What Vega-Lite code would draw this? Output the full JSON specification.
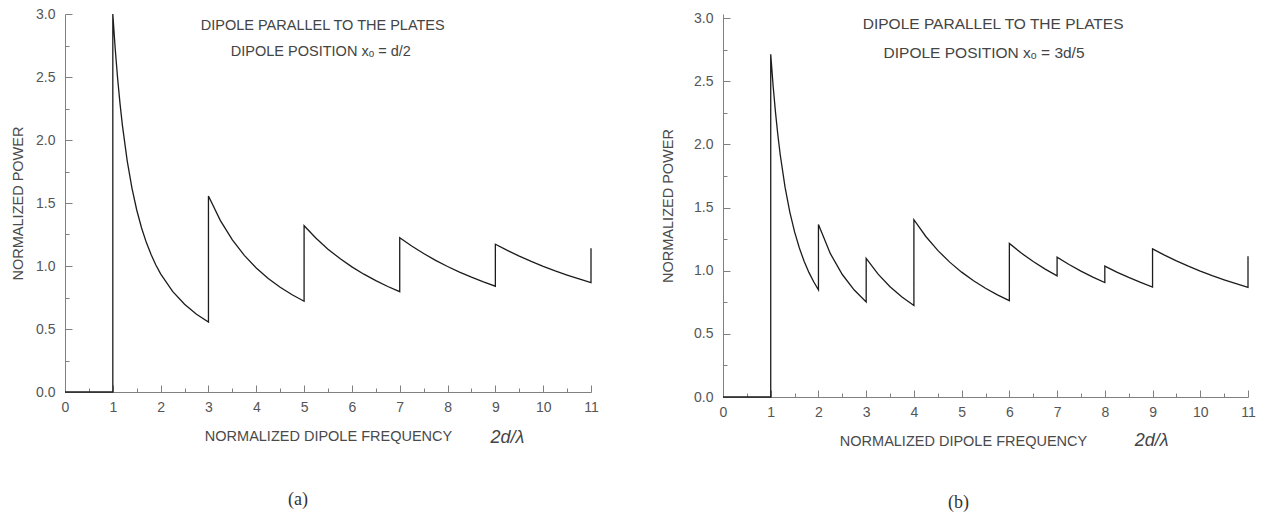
{
  "$schema": "https://vega.github.io/schema/vega-lite/v6.json",
  "background": "white",
  "padding": {"left": 10, "top": 7, "right": 5, "bottom": 5},
  "config": {
    "view": {"stroke": null},
    "font": "Liberation Sans",
    "axis": {
      "grid": false,
      "domainColor": "#808080",
      "tickColor": "#808080",
      "domainWidth": 1,
      "tickWidth": 1,
      "labelColor": "#555555",
      "titleColor": "#4a4a4a",
      "labelFont": "Liberation Sans",
      "titleFont": "Liberation Sans",
      "labelFontSize": 14,
      "titleFontSize": 14.5,
      "titleFontWeight": "normal",
      "labelFlush": false,
      "labelOverlap": false
    }
  },
  "datasets": {
    "curves": [
      {"panel":"a","i":0,"nu":0,"p":0},{"panel":"a","i":1,"nu":1,"p":0},{"panel":"a","i":2,"nu":1,"p":3.0},
      {"panel":"a","i":3,"nu":1.05,"p":2.7243},{"panel":"a","i":4,"nu":1.1,"p":2.4906},{"panel":"a","i":5,"nu":1.15,"p":2.2906},
      {"panel":"a","i":6,"nu":1.2,"p":2.1181},{"panel":"a","i":7,"nu":1.3,"p":1.8366},{"panel":"a","i":8,"nu":1.4,"p":1.6181},
      {"panel":"a","i":9,"nu":1.5,"p":1.4444},{"panel":"a","i":10,"nu":1.6,"p":1.3037},{"panel":"a","i":11,"nu":1.7,"p":1.1877},
      {"panel":"a","i":12,"nu":1.8,"p":1.0905},{"panel":"a","i":13,"nu":1.9,"p":1.0082},{"panel":"a","i":14,"nu":2.0,"p":0.9375},
      {"panel":"a","i":15,"nu":2.25,"p":0.7984},{"panel":"a","i":16,"nu":2.5,"p":0.696},{"panel":"a","i":17,"nu":2.75,"p":0.6176},
      {"panel":"a","i":18,"nu":3,"p":0.5556},{"panel":"a","i":19,"nu":3,"p":1.5556},{"panel":"a","i":20,"nu":3.25,"p":1.36},
      {"panel":"a","i":21,"nu":3.5,"p":1.207},{"panel":"a","i":22,"nu":3.75,"p":1.0844},{"panel":"a","i":23,"nu":4,"p":0.9844},
      {"panel":"a","i":24,"nu":4.25,"p":0.9013},{"panel":"a","i":25,"nu":4.5,"p":0.8313},{"panel":"a","i":26,"nu":4.75,"p":0.7716},
      {"panel":"a","i":27,"nu":5,"p":0.72},{"panel":"a","i":28,"nu":5,"p":1.32},{"panel":"a","i":29,"nu":5.25,"p":1.22},
      {"panel":"a","i":30,"nu":5.5,"p":1.1337},{"panel":"a","i":31,"nu":5.75,"p":1.0588},{"panel":"a","i":32,"nu":6,"p":0.9931},
      {"panel":"a","i":33,"nu":6.25,"p":0.935},{"panel":"a","i":34,"nu":6.5,"p":0.8835},{"panel":"a","i":35,"nu":6.75,"p":0.8374},
      {"panel":"a","i":36,"nu":7,"p":0.7959},{"panel":"a","i":37,"nu":7,"p":1.2245},{"panel":"a","i":38,"nu":7.25,"p":1.1582},
      {"panel":"a","i":39,"nu":7.5,"p":1.0987},{"panel":"a","i":40,"nu":7.75,"p":1.0449},{"panel":"a","i":41,"nu":8,"p":0.9961},
      {"panel":"a","i":42,"nu":8.25,"p":0.9517},{"panel":"a","i":43,"nu":8.5,"p":0.911},{"panel":"a","i":44,"nu":8.75,"p":0.8738},
      {"panel":"a","i":45,"nu":9,"p":0.8395},{"panel":"a","i":46,"nu":9,"p":1.1728},{"panel":"a","i":47,"nu":9.25,"p":1.1235},
      {"panel":"a","i":48,"nu":9.5,"p":1.0781},{"panel":"a","i":49,"nu":9.75,"p":1.0363},{"panel":"a","i":50,"nu":10,"p":0.9975},
      {"panel":"a","i":51,"nu":10.25,"p":0.9615},{"panel":"a","i":52,"nu":10.5,"p":0.9281},{"panel":"a","i":53,"nu":10.75,"p":0.8969},
      {"panel":"a","i":54,"nu":11,"p":0.8678},{"panel":"a","i":55,"nu":11,"p":1.1405},

      {"panel":"b","i":0,"nu":0,"p":0},{"panel":"b","i":1,"nu":1,"p":0},{"panel":"b","i":2,"nu":1,"p":2.7135},
      {"panel":"b","i":3,"nu":1.05,"p":2.4641},{"panel":"b","i":4,"nu":1.1,"p":2.2528},{"panel":"b","i":5,"nu":1.15,"p":2.0718},
      {"panel":"b","i":6,"nu":1.2,"p":1.9158},{"panel":"b","i":7,"nu":1.3,"p":1.6612},{"panel":"b","i":8,"nu":1.4,"p":1.4636},
      {"panel":"b","i":9,"nu":1.5,"p":1.3065},{"panel":"b","i":10,"nu":1.6,"p":1.1792},{"panel":"b","i":11,"nu":1.7,"p":1.0743},
      {"panel":"b","i":12,"nu":1.8,"p":0.9864},{"panel":"b","i":13,"nu":1.9,"p":0.9119},{"panel":"b","i":14,"nu":2,"p":0.848},
      {"panel":"b","i":15,"nu":2,"p":1.3662},{"panel":"b","i":16,"nu":2.25,"p":1.1344},{"panel":"b","i":17,"nu":2.5,"p":0.9695},
      {"panel":"b","i":18,"nu":2.75,"p":0.8467},{"panel":"b","i":19,"nu":3,"p":0.752},{"panel":"b","i":20,"nu":3,"p":1.0975},
      {"panel":"b","i":21,"nu":3.25,"p":0.9722},{"panel":"b","i":22,"nu":3.5,"p":0.8726},{"panel":"b","i":23,"nu":3.75,"p":0.7917},
      {"panel":"b","i":24,"nu":4,"p":0.7248},{"panel":"b","i":25,"nu":4,"p":1.4032},{"panel":"b","i":26,"nu":4.25,"p":1.2706},
      {"panel":"b","i":27,"nu":4.5,"p":1.1604},{"panel":"b","i":28,"nu":4.75,"p":1.0676},{"panel":"b","i":29,"nu":5,"p":0.9884},
      {"panel":"b","i":30,"nu":5.25,"p":0.9202},{"panel":"b","i":31,"nu":5.5,"p":0.8609},{"panel":"b","i":32,"nu":5.75,"p":0.8089},
      {"panel":"b","i":33,"nu":6,"p":0.763},{"panel":"b","i":34,"nu":6,"p":1.2152},{"panel":"b","i":35,"nu":6.25,"p":1.1392},
      {"panel":"b","i":36,"nu":6.5,"p":1.072},{"panel":"b","i":37,"nu":6.75,"p":1.0123},{"panel":"b","i":38,"nu":7,"p":0.9588},
      {"panel":"b","i":39,"nu":7,"p":1.1069},{"panel":"b","i":40,"nu":7.25,"p":1.0489},{"panel":"b","i":41,"nu":7.5,"p":0.9966},
      {"panel":"b","i":42,"nu":7.75,"p":0.9493},{"panel":"b","i":43,"nu":8,"p":0.9063},{"panel":"b","i":44,"nu":8,"p":1.0359},
      {"panel":"b","i":45,"nu":8.25,"p":0.989},{"panel":"b","i":46,"nu":8.5,"p":0.9462},{"panel":"b","i":47,"nu":8.75,"p":0.9069},
      {"panel":"b","i":48,"nu":9,"p":0.8708},{"panel":"b","i":49,"nu":9,"p":1.1723},{"panel":"b","i":50,"nu":9.25,"p":1.123},
      {"panel":"b","i":51,"nu":9.5,"p":1.0777},{"panel":"b","i":52,"nu":9.75,"p":1.0359},{"panel":"b","i":53,"nu":10,"p":0.9971},
      {"panel":"b","i":54,"nu":10.25,"p":0.9612},{"panel":"b","i":55,"nu":10.5,"p":0.9278},{"panel":"b","i":56,"nu":10.75,"p":0.8966},
      {"panel":"b","i":57,"nu":11,"p":0.8675},{"panel":"b","i":58,"nu":11,"p":1.1141}
    ],
    "notes": [
      {"panel":"a","kind":"note","nu":5.39,"p":2.905,"text":"DIPOLE PARALLEL TO THE PLATES"},
      {"panel":"a","kind":"note","nu":5.35,"p":2.698,"text":"DIPOLE POSITION xₒ = d/2"},
      {"panel":"a","kind":"sym","nu":9.25,"p":-0.365,"text":"2d/λ"},
      {"panel":"b","kind":"note","nu":5.66,"p":2.953,"text":"DIPOLE PARALLEL TO THE PLATES"},
      {"panel":"b","kind":"note","nu":5.47,"p":2.723,"text":"DIPOLE POSITION xₒ = 3d/5"},
      {"panel":"b","kind":"sym","nu":8.98,"p":-0.348,"text":"2d/λ"}
    ]
  },
  "bounds": "flush",
  "spacing": 132,
  "hconcat": [
    {
      "width": 526,
      "height": 378,
      "title": {"text": "(a)", "orient": "bottom", "font": "Liberation Serif", "fontSize": 18, "fontWeight": "normal", "color": "#333333", "offset": 44, "dx": -30},
      "encoding": {
        "x": {"field": "nu", "type": "quantitative", "scale": {"domain": [0, 11], "nice": false, "zero": false},
          "axis": {"title": "NORMALIZED DIPOLE FREQUENCY",
            "values": [0,0.5,1,1.5,2,2.5,3,3.5,4,4.5,5,5.5,6,6.5,7,7.5,8,8.5,9,9.5,10,10.5,11],
            "labelExpr": "datum.value % 1 == 0 ? format(datum.value, 'd') : ''",
            "tickSize": {"condition": {"test": "datum.value % 1 == 0", "value": -7}, "value": -4},
            "labelPadding": 15, "titlePadding": 12}},
        "y": {"field": "p", "type": "quantitative", "scale": {"domain": [0, 3], "nice": false},
          "axis": {"title": "NORMALIZED POWER",
            "values": [0,0.25,0.5,0.75,1,1.25,1.5,1.75,2,2.25,2.5,2.75,3],
            "labelExpr": "datum.value % 0.5 == 0 ? format(datum.value, '.1f') : ''",
            "tickSize": {"condition": {"test": "datum.value % 0.5 == 0", "value": -7}, "value": -4},
            "labelPadding": 17, "titlePadding": 10}}
      },
      "layer": [
        {"data": {"name": "curves"}, "transform": [{"filter": "datum.panel == 'a'"}],
         "mark": {"type": "line", "color": "#1c1c1c", "strokeWidth": 1.3},
         "encoding": {"order": {"field": "i", "type": "quantitative"}}},
        {"data": {"name": "notes"}, "transform": [{"filter": "datum.panel == 'a' && datum.kind == 'note'"}],
         "mark": {"type": "text", "fontSize": 14.5, "color": "#444444", "align": "center", "baseline": "middle", "font": "Liberation Sans"},
         "encoding": {"text": {"field": "text"}}},
        {"data": {"name": "notes"}, "transform": [{"filter": "datum.panel == 'a' && datum.kind == 'sym'"}],
         "mark": {"type": "text", "fontSize": 18, "fontStyle": "italic", "color": "#444444", "align": "center", "baseline": "middle", "font": "Liberation Sans"},
         "encoding": {"text": {"field": "text"}}}
      ]
    },
    {
      "width": 525,
      "height": 383,
      "title": {"text": "(b)", "orient": "bottom", "font": "Liberation Serif", "fontSize": 18, "fontWeight": "normal", "color": "#333333", "offset": 44, "dx": -27},
      "encoding": {
        "x": {"field": "nu", "type": "quantitative", "scale": {"domain": [0, 11], "nice": false, "zero": false},
          "axis": {"title": "NORMALIZED DIPOLE FREQUENCY",
            "values": [0,0.5,1,1.5,2,2.5,3,3.5,4,4.5,5,5.5,6,6.5,7,7.5,8,8.5,9,9.5,10,10.5,11],
            "labelExpr": "datum.value % 1 == 0 ? format(datum.value, 'd') : ''",
            "tickSize": {"condition": {"test": "datum.value % 1 == 0", "value": -7}, "value": -4},
            "labelPadding": 15, "titlePadding": 12, "titleX": 240}},
        "y": {"field": "p", "type": "quantitative", "scale": {"domain": [0, 3.0317], "nice": false},
          "axis": {"title": "NORMALIZED POWER",
            "values": [0,0.25,0.5,0.75,1,1.25,1.5,1.75,2,2.25,2.5,2.75,3],
            "labelExpr": "datum.value % 0.5 == 0 ? format(datum.value, '.1f') : ''",
            "tickSize": {"condition": {"test": "datum.value % 0.5 == 0", "value": -7}, "value": -4},
            "labelPadding": 17, "titlePadding": 18}}
      },
      "layer": [
        {"data": {"name": "curves"}, "transform": [{"filter": "datum.panel == 'b'"}],
         "mark": {"type": "line", "color": "#1c1c1c", "strokeWidth": 1.3},
         "encoding": {"order": {"field": "i", "type": "quantitative"}}},
        {"data": {"name": "notes"}, "transform": [{"filter": "datum.panel == 'b' && datum.kind == 'note'"}],
         "mark": {"type": "text", "fontSize": 15.5, "color": "#444444", "align": "center", "baseline": "middle", "font": "Liberation Sans"},
         "encoding": {"text": {"field": "text"}}},
        {"data": {"name": "notes"}, "transform": [{"filter": "datum.panel == 'b' && datum.kind == 'sym'"}],
         "mark": {"type": "text", "fontSize": 18, "fontStyle": "italic", "color": "#444444", "align": "center", "baseline": "middle", "font": "Liberation Sans"},
         "encoding": {"text": {"field": "text"}}}
      ]
    }
  ]
}
